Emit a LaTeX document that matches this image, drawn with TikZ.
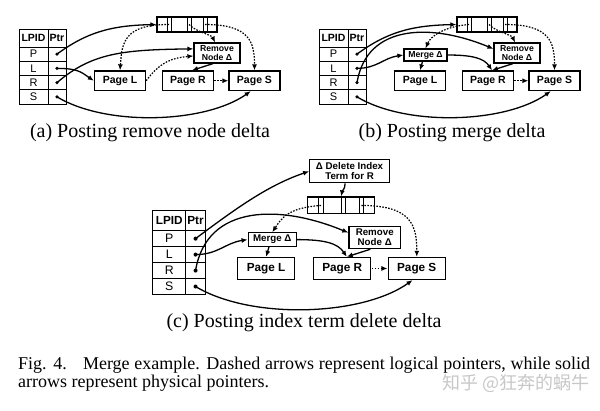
\documentclass[tikz,border=0pt]{standalone}
\usepackage{fontspec}
\usetikzlibrary{arrows.meta}
\newfontfamily\dsf{Liberation Sans}
\newfontfamily\capfont{Liberation Serif}
\newfontfamily\cjk{Noto Sans CJK SC}
\tikzset{
  cellbox/.style={draw, line width=1pt, inner sep=0pt, font=\dsf\fontsize{11}{12}\selectfont},
  hcell/.style={cellbox, font=\dsf\bfseries\fontsize{10.5}{12}\selectfont},
  pagebox/.style={draw, line width=1.3pt, inner sep=0pt, minimum width=51pt, minimum height=19.5pt, font=\dsf\bfseries\fontsize{10.5}{12}\selectfont},
  deltabox/.style={draw, line width=1.2pt, inner sep=0pt, align=center, font=\dsf\bfseries\fontsize{8.7}{9.2}\selectfont},
  parbox/.style={draw, line width=1.2pt, inner sep=0pt, minimum width=60pt, minimum height=15pt},
  barline/.style={line width=0.9pt},
  physarrow/.style={line width=1.3pt, -{Latex[length=6pt,width=5pt]}},
  logiarrow/.style={line width=1.2pt, dash pattern=on 1.6pt off 1.4pt, -{Latex[length=6pt,width=5pt]}},
  captext/.style={font=\capfont\fontsize{20}{24}\selectfont, inner sep=0pt}
}
\newcommand\panelbase[1]{%
  \node[hcell, minimum width=29pt, minimum height=18pt] (#1lpid) at (33.5,38) {LPID};
  \node[hcell, minimum width=18pt, minimum height=18pt] (#1ptr) at (57,38) {Ptr};
  \node[cellbox, minimum width=29pt, minimum height=14.25pt] (#1P) at (33.5,54.125) {P};
  \node[cellbox, minimum width=18pt, minimum height=14.25pt] (#1Pp) at (57,54.125) {};
  \node[cellbox, minimum width=29pt, minimum height=14.25pt] (#1L) at (33.5,68.375) {L};
  \node[cellbox, minimum width=18pt, minimum height=14.25pt] (#1Lp) at (57,68.375) {};
  \node[cellbox, minimum width=29pt, minimum height=14.25pt] (#1R) at (33.5,82.625) {R};
  \node[cellbox, minimum width=18pt, minimum height=14.25pt] (#1Rp) at (57,82.625) {};
  \node[cellbox, minimum width=29pt, minimum height=14.25pt] (#1S) at (33.5,96.875) {S};
  \node[cellbox, minimum width=18pt, minimum height=14.25pt] (#1Sp) at (57,96.875) {};
  \fill (#1Pp.center) circle[radius=1.8pt];
  \fill (#1Lp.center) circle[radius=1.8pt];
  \fill (#1Rp.center) circle[radius=1.8pt];
  \fill (#1Sp.center) circle[radius=1.8pt];
  \node[parbox] (#1par) at (187,24.5) {};
  \draw[barline] (167,17) -- (167,32);
  \draw[barline] (171,17) -- (171,32);
  \draw[barline] (187,17) -- (187,32);
  \draw[barline] (191,17) -- (191,32);
  \draw[barline] (203,17) -- (203,32);
  \draw[barline] (207,17) -- (207,32);
  \coordinate (#1b1) at (169,24.5);
  \coordinate (#1b2) at (189,24.5);
  \coordinate (#1b3) at (205,24.5);
  \node[pagebox] (#1pL) at (120,80.75) {Page L};
  \node[pagebox] (#1pR) at (188,80.75) {Page R};
  \node[pagebox] (#1pS) at (254.5,80.75) {Page S};
  \node[deltabox, minimum width=46pt, minimum height=20pt] (#1rem) at (217,53) {Remove\\Node Δ};
}
\begin{document}
\begin{tikzpicture}[x=1pt, y=-1pt]
\useasboundingbox (0,0) rectangle (600,410);
% ---------- panel (a)
\begin{scope}
  \panelbase{a}
  \draw[physarrow] (aPp.center) .. controls +(30,-22) and +(-45,1) .. (apar.west);
  \draw[physarrow] (aLp.center) .. controls +(22,0) and +(-12,-8) .. (apL.west);
  \draw[physarrow] (aRp.center) .. controls +(35,-30) and +(-70,1) .. (arem.170);
  \draw[physarrow] (aSp.center) .. controls +(50,30) and +(-45,32) .. (apS.250);
  \draw[logiarrow] (ab1) .. controls +(-45,0) and +(2,-28) .. (apL.north);
  \draw[logiarrow] (ab2) .. controls +(8,8) and +(-4,-8) .. (arem.100);
  \draw[logiarrow] (ab3) .. controls +(45,0) and +(0,-28) .. (apS.north);
  \draw[logiarrow] (apL.east) .. controls +(15,-20) and +(-20,2) .. (arem.187);
  \draw[physarrow] ([xshift=-4pt]arem.south) -- ([xshift=4pt]apR.north);
  \draw[logiarrow] (apR.east) -- (apS.west);
\end{scope}
% ---------- panel (b)
\begin{scope}[shift={(300,0)}]
  \panelbase{b}
  \node[deltabox, minimum width=43pt, minimum height=12pt] (bmerge) at (125.5,55) {Merge Δ};
  \draw[physarrow] (bPp.center) .. controls +(30,-22) and +(-45,1) .. (bpar.west);
  \draw[physarrow] (bLp.center) .. controls +(20,0) and +(-20,3) .. (bmerge.west);
  \draw[physarrow] (bRp.center) .. controls +(10,-60) and +(-60,-25) .. (brem.170);
  \draw[physarrow] (bSp.center) .. controls +(50,30) and +(-45,32) .. (bpS.250);
  \draw[logiarrow] (bb1) .. controls +(-25,2) and +(5,-12) .. (bmerge.north);
  \draw[logiarrow] (bb2) .. controls +(8,8) and +(-4,-8) .. (brem.100);
  \draw[logiarrow] (bb3) .. controls +(45,0) and +(0,-28) .. (bpS.north);
  \draw[physarrow] ([xshift=-3pt]bmerge.south) -- (bpL.north);
  \draw[physarrow] (bmerge.east) .. controls +(25,0) and +(-8,-12) .. ([xshift=4pt]bpR.north);
  \draw[physarrow] ([xshift=-4pt]brem.south) -- ([xshift=4pt]bpR.north);
  \draw[logiarrow] (bpR.east) -- (bpS.west);
\end{scope}
% ---------- panel (c)
\begin{scope}[shift={(131.7,178)}, scale=1.12, transform shape]
  \panelbase{c}
  \node[deltabox, minimum width=43pt, minimum height=12pt] (cmerge) at (125.5,55) {Merge Δ};
  \node[deltabox, minimum width=71pt, minimum height=20.5pt] (cdel) at (194.5,-6) {Δ Delete Index\\Term for R};
  \draw[physarrow] (cPp.center) .. controls +(40,-30) and +(-35,12) .. (cdel.west);
  \draw[physarrow] ([xshift=-4pt]cdel.south) .. controls +(0,5) and +(1,-5) .. (cpar.north);
  \draw[physarrow] (cLp.center) .. controls +(20,0) and +(-20,3) .. (cmerge.west);
  \draw[physarrow] (cRp.center) .. controls +(10,-60) and +(-60,-25) .. (crem.170);
  \draw[physarrow] (cSp.center) .. controls +(50,30) and +(-45,32) .. (cpS.250);
  \draw[logiarrow] (cb1) .. controls +(-30,2) and +(8,-12) .. (cmerge.north);
  \draw[logiarrow] (cb3) .. controls +(45,0) and +(0,-28) .. (cpS.north);
  \draw[physarrow] ([xshift=-3pt]cmerge.south) -- (cpL.north);
  \draw[physarrow] (cmerge.east) .. controls +(25,0) and +(-8,-12) .. ([xshift=4pt]cpR.north);
  \draw[physarrow] ([xshift=-4pt]crem.south) -- ([xshift=4pt]cpR.north);
  \draw[logiarrow] (cpR.east) -- (cpS.west);
\end{scope}
% ---------- captions
\node[captext] (capa) at (150,133) {(a) Posting remove node delta};
\node[captext] (capb) at (452,133) {(b) Posting merge delta};
\node[captext] (capc) at (304,323) {(c) Posting index term delete delta};
\node[anchor=base west, inner sep=0pt, font=\capfont\fontsize{18}{18}\selectfont] (fig1) at (18,369)
  {\makebox[572pt][s]{Fig. 4.\hspace{0.9em}Merge example. Dashed arrows represent logical pointers, while solid}};
\node[anchor=base west, inner sep=0pt, font=\capfont\fontsize{18}{18}\selectfont] (fig2) at (18,387)
  {arrows represent physical pointers.};
\node[anchor=base east, inner sep=0pt, font=\cjk\fontsize{18}{18}\selectfont, text=black!22] (wm) at (590,389)
  {知乎 @狂奔的蜗牛};
\end{tikzpicture}
\end{document}
